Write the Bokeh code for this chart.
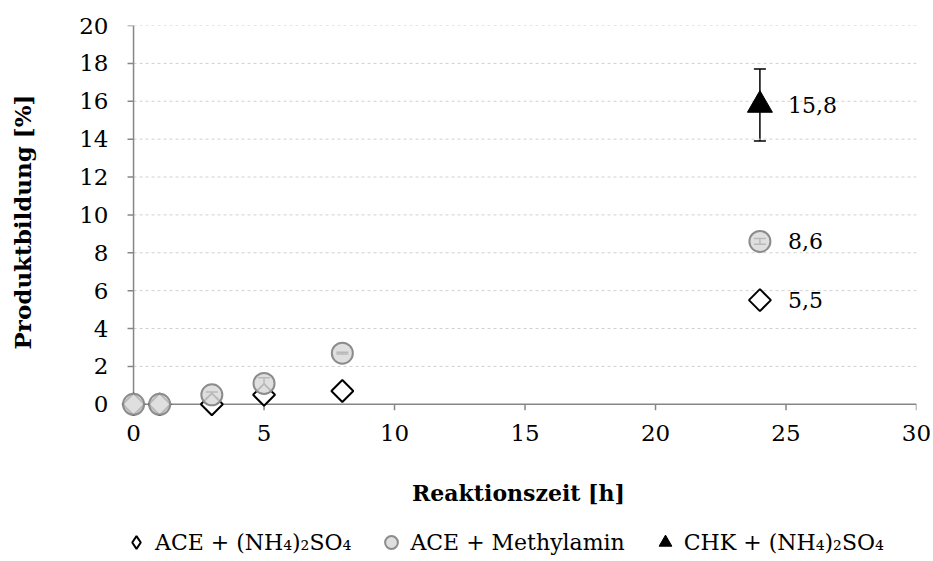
import math
from bokeh.plotting import figure
from bokeh.layouts import column
from bokeh.models import ColumnDataSource, Whisker, TeeHead, Legend, LegendItem, FixedTicker, Range1d
from bokeh.core.properties import value
from bokeh.embed import file_html
from bokeh.resources import INLINE

# data
ace_nh4_x = [0, 1, 3, 5, 8, 24]
ace_nh4_y = [0.0, 0.0, 0.0, 0.5, 0.7, 5.5]
ace_nh4_err = [0.05, 0.05, 0.05, 0.15, 0.05, 0.1]

ace_me_x = [0, 1, 3, 5, 8, 24]
ace_me_y = [0.0, 0.0, 0.5, 1.1, 2.7, 8.6]
ace_me_err = [0.05, 0.05, 0.15, 0.3, 0.05, 0.15]

chk_x = [24]
chk_y = [15.8]
chk_err = [1.9]

labels_x = [24, 24, 24]
labels_y = [15.8, 8.6, 5.5]
labels_text = ["15,8", "8,6", "5,5"]

series_names = ["ACE + (NH\u2084)\u2082SO\u2084", "ACE + Methylamin", "CHK + (NH\u2084)\u2082SO\u2084"]
x_ticks = [0, 5, 10, 15, 20, 25, 30]
y_ticks = [0, 2, 4, 6, 8, 10, 12, 14, 16, 18, 20]
x_min, x_max = 0, 30
y_min, y_max = 0, 20

FONT = "DejaVu Serif"
AX = "#868686"
GRID = "#d0d0d0"

# a little room left of / below the zero lines so the markers at 0 are not cut
x_pad, y_pad = 0.5, 0.75
tick_len_x = 0.23   # ~6 px in data units on the y axis side
tick_len_y = 0.32   # ~6 px in data units below the x axis

MAIN_H, LEG_H = 520, 41

p = figure(width=933, height=MAIN_H, output_backend="svg", toolbar_location=None,
           x_range=Range1d(x_min - x_pad, x_max), y_range=Range1d(y_min - y_pad, y_max),
           min_border_left=120, min_border_right=17, min_border_top=25, min_border_bottom=102)
p.outline_line_color = None
p.xgrid.grid_line_color = None
p.ygrid.grid_line_color = None

# horizontal dashed grid lines between the axis limits
p.segment(x0=x_min, x1=x_max, y0=y_ticks[1:], y1=y_ticks[1:],
          line_color=GRID, line_dash="3 3", line_width=1)
# axis lines at zero
p.segment(x0=[x_min, x_min], x1=[x_max, x_min], y0=[y_min, y_min], y1=[y_min, y_max],
          line_color=AX, line_width=1.5)
# tick marks
p.segment(x0=x_ticks, x1=x_ticks, y0=[y_min] * len(x_ticks), y1=[y_min - tick_len_y] * len(x_ticks),
          line_color=AX, line_width=1.5)
p.segment(x0=[x_min] * len(y_ticks), x1=[x_min - tick_len_x] * len(y_ticks), y0=y_ticks, y1=y_ticks,
          line_color=AX, line_width=1.5)

for ax in (p.xaxis[0], p.yaxis[0]):
    ax.axis_line_color = None
    ax.major_tick_line_color = None
    ax.major_tick_in = 0
    ax.major_tick_out = 0
    ax.minor_tick_line_color = None
    ax.major_label_text_font = FONT
    ax.major_label_text_font_size = "23px"
    ax.major_label_text_color = "black"
    ax.axis_label_text_font = FONT
    ax.axis_label_text_font_style = "bold"
    ax.axis_label_text_color = "black"

p.xaxis.ticker = FixedTicker(ticks=x_ticks)
p.yaxis.ticker = FixedTicker(ticks=y_ticks)
p.xaxis.axis_label = "Reaktionszeit [h]"
p.yaxis.axis_label = "Produktbildung [%]"
p.xaxis.axis_label_text_font_size = "22px"
p.yaxis.axis_label_text_font_size = "23px"
p.xaxis.major_label_standoff = 6
p.yaxis.major_label_standoff = 12
p.xaxis.axis_label_standoff = 36
p.yaxis.axis_label_standoff = 40

s1 = ColumnDataSource(dict(x=ace_nh4_x, y=ace_nh4_y,
                           lo=[a - b for a, b in zip(ace_nh4_y, ace_nh4_err)],
                           hi=[a + b for a, b in zip(ace_nh4_y, ace_nh4_err)]))
s2 = ColumnDataSource(dict(x=ace_me_x, y=ace_me_y,
                           lo=[a - b for a, b in zip(ace_me_y, ace_me_err)],
                           hi=[a + b for a, b in zip(ace_me_y, ace_me_err)]))
s3 = ColumnDataSource(dict(x=chk_x, y=chk_y,
                           lo=[a - b for a, b in zip(chk_y, chk_err)],
                           hi=[a + b for a, b in zip(chk_y, chk_err)]))

style1 = dict(marker="square", angle=math.pi / 4, size=15.5,
              fill_color="white", line_color="black", line_width=2)
style2 = dict(marker="circle", size=21,
              fill_color="#d9d9d9", fill_alpha=0.85, line_color="#8c8c8c", line_width=2)
style3 = dict(marker="triangle", size=25, fill_color="black", line_color="black")

p.scatter("x", "y", source=s1, **style1)
p.scatter("x", "y", source=s2, **style2)
p.scatter("x", "y", source=s3, **style3)

for src in (s1, s2, s3):
    w = Whisker(source=src, base="x", lower="lo", upper="hi", dimension="height",
                line_color="black", line_width=1.5,
                upper_head=TeeHead(size=12, line_color="black", line_width=1.5),
                lower_head=TeeHead(size=12, line_color="black", line_width=1.5))
    p.add_layout(w)

p.text(x=labels_x, y=labels_y, text=labels_text, x_offset=28, text_baseline="middle",
       text_font=value(FONT), text_font_size="22px", text_color="black")

# legend strip below the chart (its view range lies away from the data, so only the legend shows)
lf = figure(width=933, height=LEG_H, output_backend="svg", toolbar_location=None,
            x_range=Range1d(-3, -2), y_range=Range1d(-3, -2),
            x_axis_location=None, y_axis_location=None,
            min_border_left=120, min_border_right=17, min_border_top=0, min_border_bottom=0)
lf.grid.visible = False
lf.outline_line_color = None
leg_style1 = dict(style1, marker="diamond", angle=0, line_width=2)
l1 = lf.scatter("x", "y", source=s1, **leg_style1)
l2 = lf.scatter("x", "y", source=s2, **style2)
l3 = lf.scatter("x", "y", source=s3, **style3)

items = [LegendItem(label=series_names[0], renderers=[l1]),
         LegendItem(label=series_names[1], renderers=[l2]),
         LegendItem(label=series_names[2], renderers=[l3])]
lg = Legend(items=items, location=(0, 3), orientation="horizontal",
            border_line_color=None, background_fill_alpha=0,
            padding=2, margin=0, spacing=24, label_text_font=FONT, label_text_font_size="22px",
            label_text_color="black",
            glyph_width=32, glyph_height=32, label_height=32, label_standoff=3)
lf.add_layout(lg, "center")

layout = column(p, lf, spacing=0)
open("out.html", "w").write(file_html(layout, INLINE))
